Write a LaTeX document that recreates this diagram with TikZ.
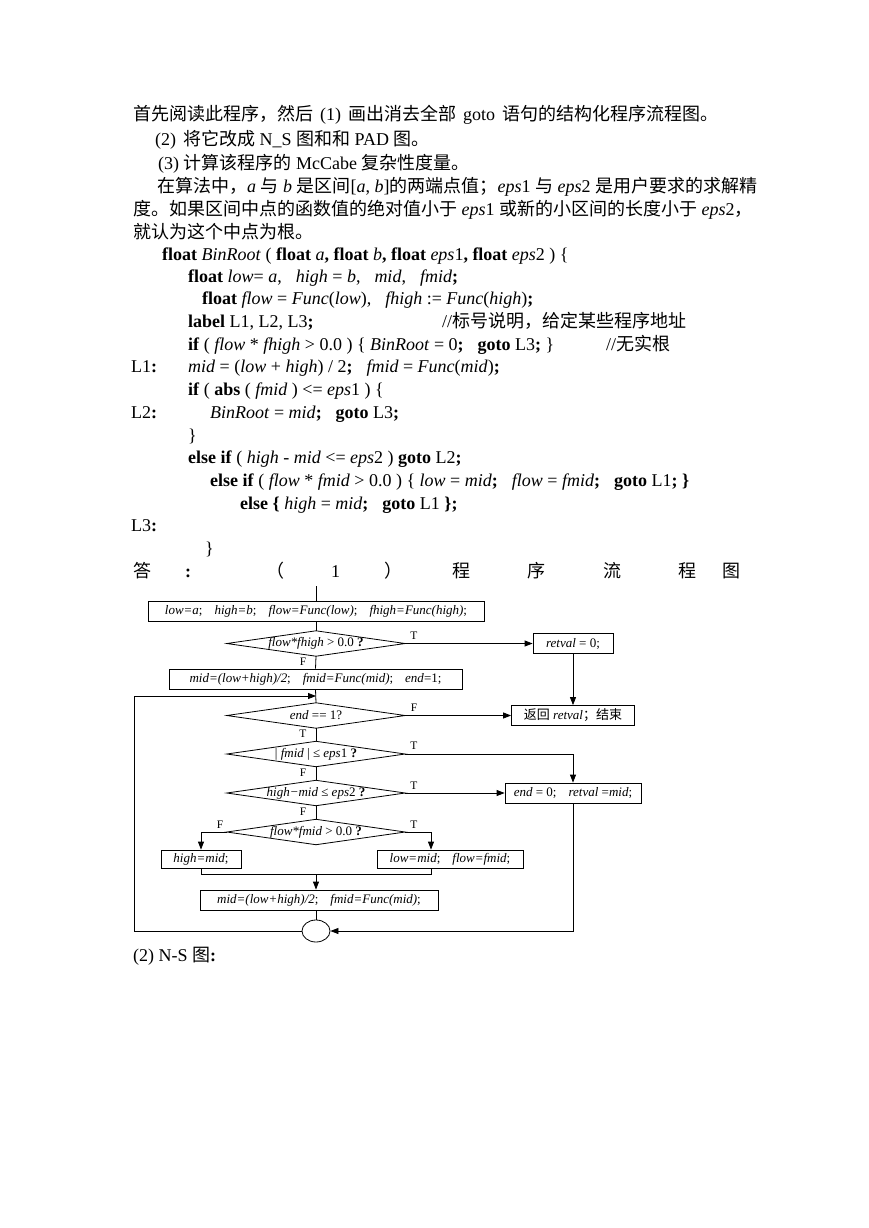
\documentclass[tikz,border=0pt]{standalone}
\usepackage{fontspec}
\setmainfont{Liberation Serif}
\newfontfamily\cjk{Noto Sans CJK SC}
\usetikzlibrary{arrows.meta,shapes.geometric}
\newcommand\zh[1]{{\cjk #1}}
\newcommand\bodyfont{\fontsize{18}{23}\selectfont}
\newcommand\fcfont{\fontsize{13}{15}\selectfont}
\newcommand\gap{\hspace{14pt}}
\newcommand\fgap{\hspace{12pt}}
\newcommand\wsp{\hspace{7pt}}
\begin{document}
\begin{tikzpicture}[x=1pt,y=-1pt,
  txt/.style={anchor=base west, inner sep=0pt, font=\bodyfont},
  box/.style={draw, line width=0.8pt, minimum height=20pt, inner sep=0pt, font=\fcfont},
  dnode/.style={minimum width=178pt, minimum height=25pt, inner sep=0pt, font=\fcfont},
  dline/.style={line width=0.8pt},
  flow/.style={line width=0.8pt},
  arr/.style={flow, -{Triangle[length=8pt,width=6pt]}},
  lab/.style={font=\fontsize{11.5}{12}\selectfont, inner sep=0pt}]
\path[use as bounding box, fill=white] (0,0) rectangle (869,1228);

% ---- text ----
\node[txt] (l1) at (133,121) {\zh{首先阅读此程序，然后}\wsp(1)\wsp\zh{画出消去全部}\wsp goto\wsp\zh{语句的结构化程序流程图。}};
\node[txt] (l2) at (155,146) {(2)\wsp\zh{将它改成} N\_S \zh{图和和} PAD \zh{图。}};
\node[txt] (l3) at (158,169) {(3) \zh{计算该程序的} McCabe \zh{复杂性度量。}};
\node[txt] (l4) at (157,192) {\zh{在算法中，}\textit{a} \zh{与} \textit{b} \zh{是区间}[\textit{a}, \textit{b}]\zh{的两端点值；}\textit{eps}1 \zh{与} \textit{eps}2 \zh{是用户要求的求解精}};
\node[txt] (l5) at (133,215) {\zh{度。如果区间中点的函数值的绝对值小于} \textit{eps}1 \zh{或新的小区间的长度小于} \textit{eps}2\zh{，}};
\node[txt] (l6) at (133,238) {\zh{就认为这个中点为根。}};
\node[txt] (l7) at (162,260) {\textbf{float} \textit{BinRoot} ( \textbf{float} \textit{a}\textbf{,} \textbf{float} \textit{b}\textbf{,} \textbf{float} \textit{eps}1\textbf{,} \textbf{float} \textit{eps}2 ) \{};
\node[txt] (l8) at (188,282) {\textbf{float} \textit{low}= \textit{a},\gap\textit{high} = \textit{b},\gap\textit{mid},\gap\textit{fmid}\textbf{;}};
\node[txt] (l9) at (202,304) {\textbf{float} \textit{flow} = \textit{Func}(\textit{low}),\gap\textit{fhigh} := \textit{Func}(\textit{high})\textbf{;}};
\node[txt] (l10) at (188,327) {\textbf{label} L1, L2, L3\textbf{;}};
\node[txt] (c10) at (442,327) {//\zh{标号说明，给定某些程序地址}};
\node[txt] (l11) at (188,350) {\textbf{if} ( \textit{flow} * \textit{fhigh} > 0.0 ) \{ \textit{BinRoot} = 0\textbf{;}\gap\textbf{goto} L3\textbf{;} \}};
\node[txt] (c11) at (606,350) {//\zh{无实根}};
\node[txt] (k1) at (131,372) {L1\textbf{:}};
\node[txt] (l12) at (188,372) {\textit{mid} = (\textit{low} + \textit{high}) / 2\textbf{;}\gap\textit{fmid} = \textit{Func}(\textit{mid})\textbf{;}};
\node[txt] (l13) at (188,395) {\textbf{if} ( \textbf{abs} ( \textit{fmid} ) <= \textit{eps}1 ) \{};
\node[txt] (k2) at (131,418) {L2\textbf{:}};
\node[txt] (l14) at (210,418) {\textit{BinRoot} = \textit{mid}\textbf{;}\gap\textbf{goto} L3\textbf{;}};
\node[txt] (l15) at (188,441) {\}};
\node[txt] (l16) at (188,463) {\textbf{else if} ( \textit{high} - \textit{mid} <= \textit{eps}2 ) \textbf{goto} L2\textbf{;}};
\node[txt] (l17) at (210,486) {\textbf{else if} ( \textit{flow} * \textit{fmid} > 0.0 ) \{ \textit{low} = \textit{mid}\textbf{;}\gap\textit{flow} = \textit{fmid}\textbf{;}\gap\textbf{goto} L1\textbf{; \}}};
\node[txt] (l18) at (240,509) {\textbf{else \{} \textit{high} = \textit{mid}\textbf{;}\gap\textbf{goto} L1 \textbf{\};}};
\node[txt] (k3) at (131,531) {L3\textbf{:}};
\node[txt] (l20) at (205,554) {\}};
\node[txt] (a1) at (133,577) {\zh{答}};
\node[txt] (a2) at (185,577) {\textbf{:}};
\node[txt] (a3) at (266,577) {\zh{（}};
\node[txt] (a4) at (331,577) {1};
\node[txt] (a5) at (384,577) {\zh{）}};
\node[txt] (a6) at (452,577) {\zh{程}};
\node[txt] (a7) at (527,577) {\zh{序}};
\node[txt] (a8) at (603,577) {\zh{流}};
\node[txt] (a9) at (678,577) {\zh{程}};
\node[txt] (a10) at (722,577) {\zh{图}};
\node[txt] (ns) at (133,961) {(2) N-S \zh{图}\textbf{:}};

% ---- flowchart ----
\coordinate (top) at (316,586);
\node[box, minimum width=336pt] (b1) at (316,611.5) {\textit{low=a};\fgap\textit{high=b};\fgap\textit{flow=Func(low)};\fgap\textit{fhigh=Func(high)};};
\node[dnode] (d1) at (316,643.5) {\textit{flow*fhigh} > 0.0 \textbf{?}};
\node[box, minimum width=80pt] (r0) at (573,643.5) {\textit{retval} = 0;};
\node[box, minimum width=293pt] (b2) at (315.5,679) {\textit{mid=(low+high)/2};\fgap\textit{fmid=Func(mid)};\fgap\textit{end}=1;};
\node[dnode] (d2) at (316,715.5) {\textit{end} == 1?};
\node[box, minimum width=123pt] (ret) at (573,715.5) {\zh{返回} \textit{retval}\zh{；结束}};
\node[dnode] (d3) at (316,754) {| \textit{fmid} | ≤ \textit{eps}1 \textbf{?}};
\node[dnode] (d4) at (316,793) {\textit{high−mid} ≤ \textit{eps}2 \textbf{?}};
\node[box, minimum width=136pt] (e0) at (573,793) {\textit{end} = 0;\fgap\textit{retval} =\textit{mid};};
\node[dnode] (d5) at (316,832) {\textit{flow*fmid} > 0.0 \textbf{?}};
\node[box, minimum width=80pt, minimum height=18pt] (hm) at (201,859) {\textit{high=mid};};
\node[box, minimum width=146pt, minimum height=18pt] (lm) at (450,859) {\textit{low=mid};\fgap\textit{flow=fmid};};
\node[box, minimum width=238pt] (mb) at (319,900) {\textit{mid=(low+high)/2};\fgap\textit{fmid=Func(mid)};};
\node[draw, ellipse, line width=0.8pt, minimum width=28pt, minimum height=22pt, inner sep=0pt] (c) at (316,931) {};
\foreach \n in {d1,d2,d3,d4,d5}
  \draw[dline] (\n.north) -- (\n.east) -- (\n.south) -- (\n.west) -- cycle;

\coordinate (j) at (316,874);
\coordinate (lp) at (316,696);
\coordinate (lc) at (134,696);
\coordinate (rb) at ([xshift=-19pt]lm.north);
\coordinate (rs) at ([xshift=-19pt]lm.south);

\draw[flow] (top) -- (b1.north);
\draw[flow] (b1.south) -- (d1.north);
\draw[arr] (d1.east) -- (r0.west);
\draw[flow] (d1.south) -- (b2.north);
\draw[arr] (r0.south) -- (ret.north);
\draw[flow] (b2.south) -- (d2.north);
\draw[arr] (d2.east) -- (ret.west);
\draw[flow] (d2.south) -- (d3.north);
\draw[arr] (d3.east) -| (e0.north);
\draw[flow] (d3.south) -- (d4.north);
\draw[arr] (d4.east) -- (e0.west);
\draw[flow] (d4.south) -- (d5.north);
\draw[arr] (d5.west) -| (hm.north);
\draw[arr] (d5.east) -| (rb);
\draw[flow] (hm.south) -- (hm.south |- j) -- (rs |- j) -- (rs);
\draw[arr] (j) -- (j |- mb.north);
\draw[flow] (c |- mb.south) -- (c.north);
\draw[arr] (e0.south) |- (c.east);
\draw[arr] (c.west) -| (lc) -- (lp);

% labels
\node[lab] (t1) at (414,636) {T};
\node[lab] (f1) at (303,662) {F};
\node[lab] (f2) at (414,708) {F};
\node[lab] (t2) at (303,734) {T};
\node[lab] (t3) at (414,746) {T};
\node[lab] (f3) at (303,773) {F};
\node[lab] (t4) at (414,786) {T};
\node[lab] (f4) at (303,812) {F};
\node[lab] (f5) at (220,825) {F};
\node[lab] (t5) at (414,825) {T};
\end{tikzpicture}
\end{document}
